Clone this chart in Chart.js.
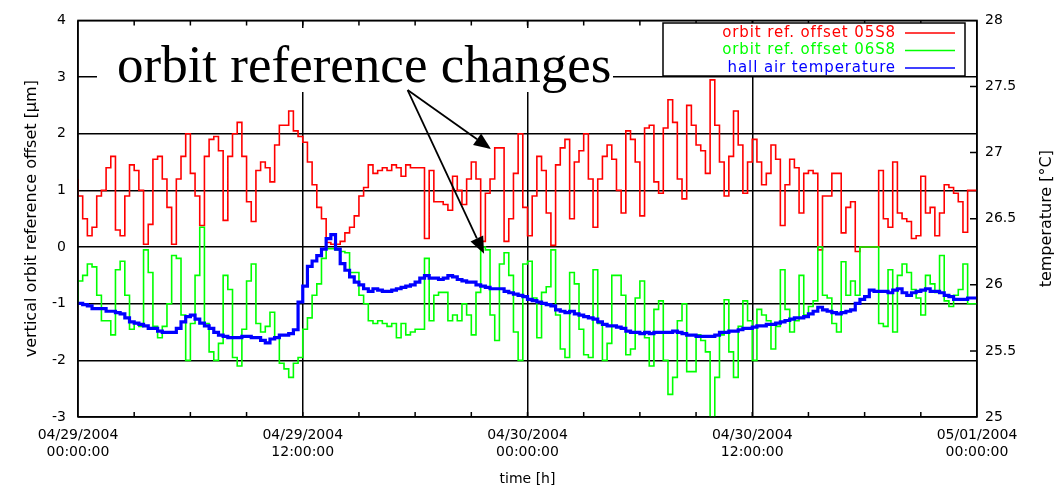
<!DOCTYPE html>
<html>
<head>
<meta charset="utf-8">
<script src="https://cdn.jsdelivr.net/npm/chart.js@4.4.0/dist/chart.umd.min.js"></script>
<style>
  html, body { margin: 0; padding: 0; background: #fff; }
  #wrap { width: 1062px; height: 491px; }
</style>
</head>
<body>
<div id="wrap"><canvas id="chart" width="1062" height="491"></canvas></div>
<script>
// sample times, hours after 04/29/2004 00:00 (every 15 min)
const hours = [];
for (let i = 0; i <= 192; i++) hours.push(i * 0.25);

// vertical orbit reference offset [um]
const offset05 = [
  1.2, 0.9, 0.5, 0.2, 0.35, 0.9, 1.0, 1.4, 1.6, 0.3, 0.2, 0.9, 1.45, 1.35, 1.0, 0.05,
  0.4, 1.55, 1.6, 1.2, 0.7, 0.05, 1.2, 1.6, 2.0, 1.3, 0.9, 0.38, 1.6, 1.9, 1.95, 1.7,
  0.47, 1.6, 2.0, 2.2, 1.6, 0.8, 0.45, 1.35, 1.5, 1.4, 1.15, 1.8, 2.15, 2.15, 2.4, 2.05,
  1.95, 1.85, 1.5, 1.1, 0.7, 0.5, 0.08, 0.05, 0.05, 0.1, 0.25, 0.35, 0.55, 0.9, 1.05, 1.45,
  1.3, 1.35, 1.4, 1.35, 1.45, 1.4, 1.25, 1.45, 1.4, 1.4, 1.4, 0.15, 1.35, 0.8, 0.8, 0.75,
  0.65, 1.25, 1.0, 0.75, 1.2, 1.5, 1.2, 0.1, 0.95, 1.2, 1.75, 1.75, 0.1, 0.5, 1.3, 2.0,
  0.7, 0.2, 0.9, 1.6, 1.35, 0.6, 0.03, 1.45, 1.75, 1.9, 0.5, 1.5, 1.7, 2.0, 1.2, 0.35,
  1.2, 1.6, 1.8, 1.55, 1.0, 0.6, 2.05, 1.9, 1.5, 0.55, 2.1, 2.15, 1.15, 0.95, 2.1, 2.6,
  2.2, 1.2, 0.85, 2.5, 2.15, 1.8, 1.7, 1.3, 2.95, 2.15, 1.5, 0.9, 1.6, 2.4, 1.8, 0.95,
  1.5, 1.9, 1.5, 1.1, 1.3, 1.8, 1.55, 0.38, 1.1, 1.55, 1.4, 0.6, 1.3, 1.35, 1.3, -0.05,
  0.9, 0.9, 1.3, 1.3, 0.25, 0.7, 0.8, -0.08, 0.0, 0.0, 0.0, 0.0, 1.35, 0.5, 0.35, 1.5,
  0.6, 0.5, 0.45, 0.15, 0.2, 1.25, 0.6, 0.7, 0.2, 0.6, 1.1, 1.05, 0.95, 0.8, 0.26, 1.0,
  1.0
];
const offset06 = [
  -1.0, -0.6, -0.5, -0.3, -0.35, -0.85, -1.3, -1.3, -1.55, -0.4, -0.25, -0.85, -1.45, -1.35, -1.4, -0.05,
  -0.45, -1.4, -1.6, -1.4, -1.0, -0.15, -0.2, -1.2, -2.0, -1.35, -0.5, 0.35, -1.35, -1.85, -2.0, -1.7,
  -0.5, -0.75, -1.95, -2.1, -1.45, -0.6, -0.3, -1.35, -1.5, -1.4, -1.15, -1.6, -2.05, -2.15, -2.3, -2.05,
  -1.95, -1.45, -1.25, -0.85, -0.65, -0.2, -0.03, -0.03, -0.05, -0.08, -0.1, -0.45, -0.45, -0.85, -1.0, -1.3,
  -1.35, -1.3, -1.35, -1.4, -1.35, -1.6, -1.35, -1.55, -1.5, -1.45, -1.45, -0.2, -1.3, -0.85, -0.8, -0.8,
  -1.3, -1.2, -1.3, -1.0, -1.2, -1.55, -0.8, 0.0, -0.05, -1.2, -1.65, -0.3, -0.1, -0.5, -1.5, -2.0,
  -0.3, -0.25, -0.9, -1.6, -0.8, -0.7, -0.05, -1.2, -1.8, -1.95, -0.45, -0.65, -1.45, -1.9, -1.95, -0.4,
  -1.35, -2.0, -1.7, -0.5, -0.5, -0.85, -1.9, -1.8, -0.9, -0.6, -1.6, -2.1, -1.1, -0.95, -2.0, -2.6,
  -2.3, -1.3, -1.0, -2.2, -2.2, -1.55, -1.65, -1.85, -3.0, -2.3, -1.55, -0.93, -1.85, -2.3, -1.4, -0.95,
  -1.3, -2.0, -1.1, -1.2, -1.3, -1.8, -1.4, -0.4, -1.1, -1.5, -1.3, -0.5, -1.2, -1.05, -0.95, 0.0,
  -0.85, -0.9, -1.35, -1.5, -0.26, -0.85, -0.6, -0.85, 0.0, 0.0, 0.0, 0.0, -1.35, -1.4, -0.4, -1.5,
  -0.5, -0.3, -0.45, -0.75, -0.9, -1.2, -0.5, -0.65, -0.8, -0.15, -0.95, -1.05, -0.85, -0.75, -0.3, -1.0,
  -1.0
];
// hall air temperature [degC]
const hallTemp = [
  25.86, 25.86, 25.85, 25.84, 25.82, 25.82, 25.82, 25.80, 25.80, 25.79, 25.78, 25.75, 25.72, 25.71, 25.70, 25.69,
  25.67, 25.67, 25.65, 25.64, 25.64, 25.64, 25.67, 25.72, 25.76, 25.77, 25.74, 25.71, 25.69, 25.67, 25.64, 25.62,
  25.61, 25.60, 25.60, 25.60, 25.61, 25.61, 25.60, 25.60, 25.58, 25.56, 25.59, 25.60, 25.62, 25.62, 25.63, 25.66,
  25.87, 25.99, 26.14, 26.18, 26.22, 26.27, 26.35, 26.38, 26.27, 26.16, 26.11, 26.06, 26.02, 26.00, 25.97, 25.95,
  25.97, 25.96, 25.95, 25.95, 25.96, 25.97, 25.98, 25.99, 26.00, 26.02, 26.05, 26.07, 26.05, 26.05, 26.04, 26.05,
  26.07, 26.06, 26.04, 26.03, 26.02, 26.02, 26.00, 25.99, 25.98, 25.97, 25.97, 25.97, 25.95, 25.94, 25.93, 25.92,
  25.91, 25.89, 25.88, 25.87, 25.86, 25.85, 25.84, 25.81, 25.80, 25.79, 25.80, 25.78, 25.77, 25.76, 25.75, 25.74,
  25.72, 25.70, 25.69, 25.69, 25.68, 25.67, 25.65, 25.64, 25.64, 25.63, 25.64, 25.63, 25.64, 25.64, 25.64, 25.64,
  25.65, 25.64, 25.63, 25.62, 25.62, 25.61, 25.61, 25.61, 25.61, 25.62, 25.64, 25.64, 25.65, 25.65, 25.66, 25.67,
  25.67, 25.68, 25.69, 25.69, 25.70, 25.70, 25.71, 25.72, 25.73, 25.74, 25.75, 25.75, 25.76, 25.78, 25.80, 25.83,
  25.81, 25.80, 25.79, 25.78, 25.79, 25.80, 25.81, 25.86, 25.89, 25.91, 25.96, 25.95, 25.95, 25.95, 25.94, 25.96,
  25.97, 25.94, 25.92, 25.94, 25.95, 25.96, 25.97, 25.95, 25.95, 25.94, 25.92, 25.91, 25.89, 25.89, 25.89, 25.90,
  25.90
];

const xTickDates = ["04/29/2004", "04/29/2004", "04/30/2004", "04/30/2004", "05/01/2004"];
const xTickTimes = ["00:00:00", "12:00:00", "00:00:00", "12:00:00", "00:00:00"];
const seriesLabels = ["orbit ref. offset 05S8", "orbit ref. offset 06S8", "hall air temperature"];
const seriesColors = ["#ff0000", "#00ff00", "#0000ff"];
const noteText = "orbit reference changes";

const tickFont = { family: "DejaVu Sans", size: 14 };
const titleFont = { family: "DejaVu Sans", size: 16 };
const pts = (ys) => hours.map((h, i) => ({ x: h, y: ys[i] }));

// frame, inner ticks, legend, right title, annotation with arrows
const decor = {
  id: "decor",
  beforeDatasetsDraw(chart) {
    const ctx = chart.ctx;
    // white box behind the annotation text hides the grid there
    ctx.save();
    ctx.fillStyle = "#fff";
    ctx.fillRect(97, 28, 516, 64);
    ctx.restore();
  },
  afterDatasetsDraw(chart) {
    const ctx = chart.ctx;
    const a = chart.chartArea;
    const xs = chart.scales.x, ys = chart.scales.y, y2 = chart.scales.y1;
    ctx.save();
    ctx.strokeStyle = "#000";
    ctx.lineWidth = 1.5;
    ctx.strokeRect(a.left, a.top, a.right - a.left, a.bottom - a.top);

    // minor time ticks every 3 h, inward
    ctx.beginPath();
    for (let h = 3; h < 48; h += 3) {
      const px = xs.getPixelForValue(h);
      ctx.moveTo(px, a.top); ctx.lineTo(px, a.top + 5);
      ctx.moveTo(px, a.bottom); ctx.lineTo(px, a.bottom - 5);
    }
    // temperature ticks on right edge
    for (let t = 25.5; t < 28; t += 0.5) {
      const py = y2.getPixelForValue(t);
      ctx.moveTo(a.right, py); ctx.lineTo(a.right - 7, py);
    }
    ctx.stroke();

    // legend
    const lx = 663, ly = 23, lw = 302, lh = 53;
    ctx.fillStyle = "#fff";
    ctx.fillRect(lx, ly, lw, lh);
    ctx.strokeRect(lx, ly, lw, lh);
    ctx.font = "15px 'DejaVu Sans'";
    ctx.letterSpacing = "0.9px";
    ctx.textAlign = "right";
    ctx.textBaseline = "middle";
    seriesLabels.forEach((s, i) => {
      const yy = 33 + i * 17.5;
      ctx.fillStyle = seriesColors[i];
      ctx.fillText(s, 896, yy);
      ctx.strokeStyle = seriesColors[i];
      ctx.lineWidth = 1.5;
      ctx.beginPath(); ctx.moveTo(905, yy); ctx.lineTo(955, yy); ctx.stroke();
    });
    ctx.letterSpacing = "0px";

    // right axis title, reading upward like the left one
    ctx.save();
    ctx.translate(1047, (a.top + a.bottom) / 2);
    ctx.rotate(-Math.PI / 2);
    ctx.fillStyle = "#000";
    ctx.textAlign = "center";
    ctx.font = "16px 'DejaVu Sans'";
    ctx.fillText("temperature [°C]", 0, 0);
    ctx.restore();

    // annotation
    ctx.fillStyle = "#000";
    ctx.textAlign = "left";
    ctx.textBaseline = "alphabetic";
    ctx.font = "53px 'Liberation Serif'";
    ctx.fillText(noteText, 117, 82);

    const from = { x: xs.getPixelForValue(17.6), y: ys.getPixelForValue(2.77) };
    const tips = [
      { x: xs.getPixelForValue(22.05), y: ys.getPixelForValue(1.73) },
      { x: xs.getPixelForValue(21.68), y: ys.getPixelForValue(-0.12) }
    ];
    ctx.strokeStyle = "#000";
    ctx.lineWidth = 1.8;
    tips.forEach(t => {
      const ang = Math.atan2(t.y - from.y, t.x - from.x);
      const len = 17, half = 7;
      const bx = t.x - len * Math.cos(ang), by = t.y - len * Math.sin(ang);
      ctx.beginPath(); ctx.moveTo(from.x, from.y); ctx.lineTo(bx, by); ctx.stroke();
      ctx.beginPath();
      ctx.moveTo(t.x, t.y);
      ctx.lineTo(bx + half * Math.sin(ang), by - half * Math.cos(ang));
      ctx.lineTo(bx - half * Math.sin(ang), by + half * Math.cos(ang));
      ctx.closePath();
      ctx.fill();
    });
    ctx.restore();
  }
};

new Chart(document.getElementById("chart"), {
  type: "line",
  data: {
    datasets: [
      { label: seriesLabels[0], data: pts(offset05), yAxisID: "y", borderColor: seriesColors[0],
        borderWidth: 1.6, stepped: "after", pointRadius: 0, order: 3 },
      { label: seriesLabels[1], data: pts(offset06), yAxisID: "y", borderColor: seriesColors[1],
        borderWidth: 1.6, stepped: "after", pointRadius: 0, order: 2 },
      { label: seriesLabels[2], data: pts(hallTemp), yAxisID: "y1", borderColor: seriesColors[2],
        borderWidth: 3.2, borderJoinStyle: "miter", stepped: "after", pointRadius: 0, order: 1 }
    ]
  },
  options: {
    responsive: false,
    animation: false,
    devicePixelRatio: 1,
    layout: { padding: { top: 17 } },
    plugins: { legend: { display: false }, tooltip: { enabled: false } },
    scales: {
      x: {
        type: "linear", min: 0, max: 48,
        afterFit: (s) => { s.height = 74; },
        border: { display: false },
        grid: { color: "#000", lineWidth: 1.5, drawTicks: false },
        ticks: {
          stepSize: 12, autoSkip: false, maxRotation: 0, padding: 10,
          color: "#000", font: tickFont,
          callback: (v) => [xTickDates[v / 12], xTickTimes[v / 12]]
        },
        title: { display: true, text: "time [h]", color: "#000", font: tickFont, padding: { bottom: 3 } }
      },
      y: {
        position: "left", min: -3, max: 4,
        afterFit: (s) => { s.width = 78; },
        border: { display: false },
        grid: { color: "#000", lineWidth: 1.5, drawTicks: false },
        ticks: { stepSize: 1, padding: 12, color: "#000", font: tickFont },
        title: { display: true, text: "vertical orbit reference offset [µm]", color: "#000",
                 font: titleFont, padding: { top: 22 } }
      },
      y1: {
        position: "right", min: 25, max: 28,
        afterFit: (s) => { s.width = 85; },
        border: { display: false },
        grid: { drawOnChartArea: false, drawTicks: false },
        ticks: { stepSize: 0.5, padding: 8, color: "#000", font: tickFont,
                 callback: (v) => String(v) }
      }
    }
  },
  plugins: [decor]
});
</script>
</body>
</html>
